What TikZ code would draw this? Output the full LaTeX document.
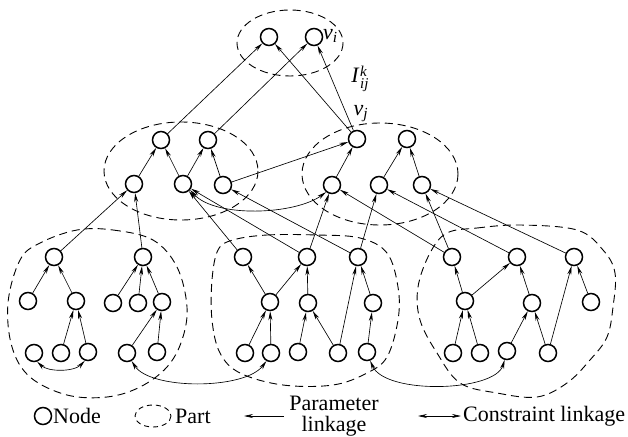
\documentclass[tikz,border=0pt]{standalone}
\usepackage{fontspec}
\setmainfont{Liberation Serif}
\usetikzlibrary{arrows.meta}
\begin{document}
\begin{tikzpicture}[x=1pt,y=-1pt,
  nd/.style={circle,draw,line width=1.5pt,minimum size=17pt,inner sep=0pt,fill=white},
  pl/.style={line width=0.65pt,-{Stealth[length=9pt,width=4pt]}},
  cl/.style={line width=0.65pt,{Stealth[length=9pt,width=4pt]}-{Stealth[length=9pt,width=4pt]}},
  part/.style={line width=0.9pt,dash pattern=on 8pt off 5pt},
  lbl/.style={font=\fontsize{22}{25}\selectfont,inner sep=0pt}]
\useasboundingbox (0,0) rectangle (628,436);
% parts
\draw[part] (290,43) ellipse [x radius=53, y radius=33];
\draw[part] (181,171) ellipse [x radius=77, y radius=49];
\draw[part] (380,174) ellipse [x radius=78, y radius=51];
\draw[part] plot[smooth cycle,tension=0.6] coordinates {(77,230) (113,230) (153,240) (177,267) (187,307) (182,340) (167,367) (140,387) (107,397) (67,395) (30,377) (12,347) (8,303) (20,260) (40,243)};
\draw[part] plot[smooth cycle,tension=0.6] coordinates {(233,240) (267,235) (317,235) (360,238) (387,253) (398,287) (398,320) (387,357) (367,373) (333,385) (283,385) (240,373) (220,353) (212,320) (212,280) (218,250)};
\draw[part] plot[smooth cycle,tension=0.6] coordinates {(447,233) (477,228) (520,225) (577,230) (603,250) (615,273) (613,307) (607,337) (590,360) (567,383) (537,397) (497,393) (460,383) (437,353) (420,320) (418,287) (430,253)};
% nodes
\node[nd] (t1) at (269,37) {};
\node[nd] (t2) at (314,37) {};
\node[nd] (a1) at (161,140) {};
\node[nd] (a2) at (208,140) {};
\node[nd] (a3) at (134,184) {};
\node[nd] (a4) at (183,184) {};
\node[nd] (a5) at (223,185) {};
\node[nd] (b1) at (357,139) {};
\node[nd] (b2) at (407,139) {};
\node[nd] (b3) at (332,185) {};
\node[nd] (b4) at (379,185) {};
\node[nd] (b5) at (422,185) {};
\node[nd] (c1) at (54,257) {};
\node[nd] (c2) at (143,257) {};
\node[nd] (c3) at (28,301) {};
\node[nd] (c4) at (76,301) {};
\node[nd] (c5) at (113,303) {};
\node[nd] (c6) at (138,303) {};
\node[nd] (c7) at (162,302) {};
\node[nd] (c8) at (34,353) {};
\node[nd] (c9) at (61,353) {};
\node[nd] (c10) at (88,352) {};
\node[nd] (c11) at (127,353) {};
\node[nd] (c12) at (157,352) {};
\node[nd] (d1) at (243,257) {};
\node[nd] (d2) at (307,257) {};
\node[nd] (d3) at (358,257) {};
\node[nd] (d4) at (270,302) {};
\node[nd] (d5) at (308,303) {};
\node[nd] (d6) at (373,303) {};
\node[nd] (d7) at (245,353) {};
\node[nd] (d8) at (271,353) {};
\node[nd] (d9) at (298,352) {};
\node[nd] (d10) at (338,353) {};
\node[nd] (d11) at (367,352) {};
\node[nd] (e1) at (452,257) {};
\node[nd] (e2) at (517,257) {};
\node[nd] (e3) at (574,257) {};
\node[nd] (e4) at (465,301) {};
\node[nd] (e5) at (532,303) {};
\node[nd] (e6) at (591,302) {};
\node[nd] (e7) at (453,353) {};
\node[nd] (e8) at (480,353) {};
\node[nd] (e9) at (507,351) {};
\node[nd] (e10) at (548,353) {};
% labels
\node[lbl,anchor=west] (vi) at (323,36) {\textit{v}\textsubscript{\textit{i}}};
\node[lbl] (vj) at (361,114) {\textit{v}\textsubscript{\textit{j}}};
\node[lbl] (Ik) at (360,79) {\textit{I}\kern0.5pt{\fontsize{15}{15}\selectfont\begin{tabular}[c]{@{}l@{}}\textit{k}\\[-3pt]\textit{ij}\end{tabular}}};
% parameter linkages
\foreach \s/\t in {a1/t1,a2/t2,b1/t1,b1/t2,a3/a1,a4/a1,a4/a2,a5/a2,b3/b1,b4/b2,b5/b2,a5/b1,
  c1/a3,c2/a3,d1/a4,d2/a4,d3/a5,d2/b3,d3/b4,e1/b3,e1/b5,e2/b4,e3/b5,
  c3/c1,c4/c1,c9/c4,c10/c4,c5/c2,c6/c2,c7/c2,c11/c7,c12/c7,
  d4/d1,d4/d2,d5/d2,d7/d4,d8/d4,d9/d5,d10/d5,d10/d3,d6/d3,d11/d6,
  e4/e1,e4/e2,e7/e4,e8/e4,e5/e2,e9/e5,e10/e5,e10/e3,e6/e3}
  \draw[pl] (\s) -- (\t);
% constraint linkages
\draw[cl] (c8.-70) .. controls (48,372) and (74,372) .. (c10.-110);
\draw[cl] (c11.-60) .. controls (150,390) and (245,390) .. (d8.-120);
\draw[cl] (a4.-40) .. controls (215,218) and (295,215) .. (b3.-130);
\draw[cl] (d11.-70) .. controls (385,395) and (495,392) .. (e9.-105);
% legend
\node[nd] (ln) at (43,416) {};
\node[lbl,anchor=west] (ltn) at (53,416) {Node};
\draw[line width=0.9pt,dash pattern=on 5pt off 4pt] (153,416) ellipse [x radius=18, y radius=11];
\node[lbl,anchor=west] (ltp) at (175,416) {Part};
\coordinate (pa1) at (284,416);
\coordinate (pa2) at (244,416);
\draw[pl] (pa1) -- (pa2);
\node[lbl,align=center] (ltl) at (334,416) {Parameter\\[-4pt]linkage};
\coordinate (ca1) at (418,416);
\coordinate (ca2) at (461,416);
\draw[cl] (ca1) -- (ca2);
\node[lbl,anchor=west] (ltc) at (463,416) {Constraint linkage};
\end{tikzpicture}
\end{document}
